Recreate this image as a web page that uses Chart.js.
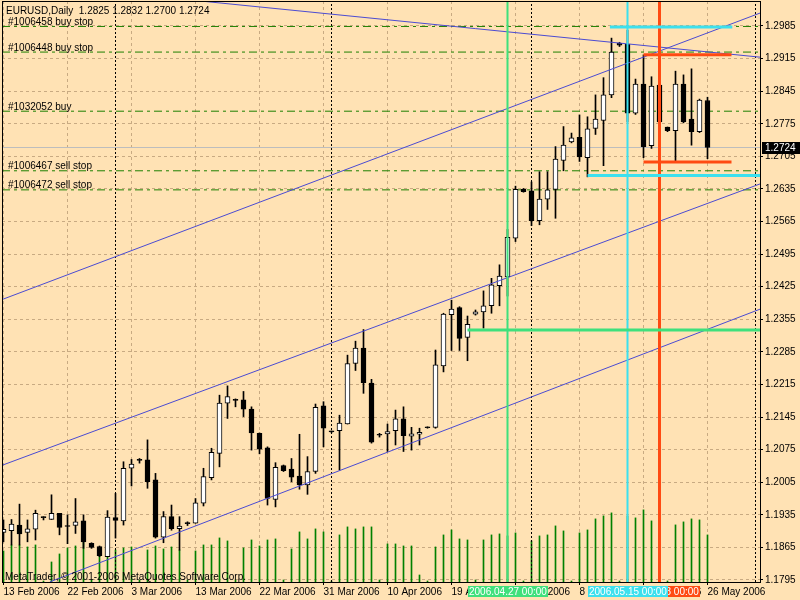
<!DOCTYPE html>
<html>
<head>
<meta charset="utf-8">
<title>EURUSD,Daily</title>
<script src="https://cdn.jsdelivr.net/npm/chart.js@4.4.1/dist/chart.umd.min.js"></script>
<style>
  html, body { margin: 0; padding: 0; background: #FFE2B4; }
  canvas { display: block; }
</style>
</head>
<body>
<canvas id="chart" width="800" height="600"></canvas>
<script>
// bar 0 = 13 Feb 2006, one bar per day, the broker also has Sunday bars
const opens = [
  1.1897, 1.1901, 1.1913, 1.1897, 1.1904, 1.1931, 1.1925, 1.1938, 1.1911, 1.1912,
  1.1922, 1.1874, 1.1867, 1.1845, 1.1929, 1.1922, 1.2035, 1.2053, 1.2053, 1.2010,
  1.1887, 1.1931, 1.1905, 1.1917, 1.1917, 1.1960, 1.2015, 1.2067, 1.2175, 1.2183,
  1.2182, 1.2162, 1.2110, 1.2079, 1.1968, 1.2041, 1.2033, 1.2018, 1.1999, 1.2028,
  1.2169, 1.2114, 1.2116, 1.2130, 1.2260, 1.2293, 1.2218, 1.2108, 1.2109, 1.2116,
  1.2141, 1.2104, 1.2108, 1.2123, 1.2123, 1.2255, 1.2365, 1.2380, 1.2316, 1.2366,
  1.2371, 1.2384, 1.2427, 1.2446, 1.2529, 1.2634, 1.2631, 1.2567, 1.2613, 1.2634,
  1.2696, 1.2736, 1.2746, 1.2702, 1.2765, 1.2782, 1.2837, 1.2948, 1.2946, 1.2798,
  1.2860, 1.2728, 1.2858, 1.2768, 1.2760, 1.2860, 1.2785, 1.2758, 1.2825
];
const highs = [
  1.1924, 1.1925, 1.1958, 1.1924, 1.1945, 1.1931, 1.1978, 1.1938, 1.1935, 1.1970,
  1.1935, 1.1875, 1.1868, 1.1944, 1.1981, 1.2049, 1.2054, 1.2056, 1.2096, 1.2024,
  1.1942, 1.1956, 1.1931, 1.1920, 1.1970, 1.2035, 1.2078, 1.2192, 1.2212, 1.2184,
  1.2200, 1.2167, 1.2111, 1.2081, 1.2047, 1.2042, 1.2056, 1.2108, 1.2060, 1.2173,
  1.2178, 1.2115, 1.2149, 1.2278, 1.2308, 1.2333, 1.2226, 1.2110, 1.2130, 1.2160,
  1.2167, 1.2123, 1.2121, 1.2124, 1.2289, 1.2368, 1.2396, 1.2382, 1.2362, 1.2375,
  1.2416, 1.2443, 1.2472, 1.2548, 1.2641, 1.2636, 1.2650, 1.2672, 1.2672, 1.2726,
  1.2769, 1.2755, 1.2794, 1.2790, 1.2837, 1.2874, 1.2959, 1.2950, 1.2976, 1.2871,
  1.2923, 1.2876, 1.2869, 1.2768, 1.2888, 1.2880, 1.2893, 1.2828, 1.2832
];
const lows = [
  1.1877, 1.1870, 1.1870, 1.1877, 1.1881, 1.1924, 1.1925, 1.1892, 1.1873, 1.1895,
  1.1863, 1.1863, 1.1845, 1.1845, 1.1885, 1.1913, 1.1997, 1.2046, 1.1992, 1.1885,
  1.1875, 1.1902, 1.1859, 1.1912, 1.1917, 1.1954, 1.2010, 1.2038, 1.2142, 1.2167,
  1.2146, 1.2074, 1.2066, 1.1956, 1.1952, 1.2028, 1.2006, 1.1990, 1.1979, 1.2024,
  1.2081, 1.2111, 1.2031, 1.2130, 1.2245, 1.2196, 1.2089, 1.2102, 1.2071, 1.2085,
  1.2071, 1.2074, 1.2085, 1.2121, 1.2121, 1.2242, 1.2288, 1.2288, 1.2266, 1.2364,
  1.2336, 1.2368, 1.2384, 1.2405, 1.2522, 1.2628, 1.2556, 1.2558, 1.2591, 1.2572,
  1.2674, 1.2734, 1.2694, 1.2661, 1.2752, 1.2685, 1.2831, 1.2941, 1.2779, 1.2795,
  1.2702, 1.2722, 1.2766, 1.2758, 1.2693, 1.2777, 1.2729, 1.2756, 1.2700
];
const closes = [
  1.1904, 1.1915, 1.1894, 1.1905, 1.1938, 1.1929, 1.1938, 1.1908, 1.1910, 1.1920,
  1.1877, 1.1865, 1.1847, 1.1930, 1.1923, 1.2035, 1.2044, 1.2052, 1.2006, 1.1887,
  1.1931, 1.1905, 1.1911, 1.1916, 1.1961, 1.2017, 1.2069, 1.2175, 1.2189, 1.2181,
  1.2162, 1.2111, 1.2076, 1.1970, 1.2037, 1.2030, 1.2016, 1.1999, 1.2028, 1.2166,
  1.2121, 1.2113, 1.2132, 1.2260, 1.2293, 1.2219, 1.2091, 1.2106, 1.2114, 1.2141,
  1.2105, 1.2109, 1.2112, 1.2122, 1.2257, 1.2366, 1.2377, 1.2314, 1.2344, 1.2371,
  1.2384, 1.2429, 1.2448, 1.2531, 1.2634, 1.2629, 1.2567, 1.2613, 1.2633, 1.2699,
  1.2729, 1.2745, 1.2704, 1.2764, 1.2785, 1.2837, 1.2929, 1.2944, 1.2798, 1.2860,
  1.2726, 1.2856, 1.2779, 1.2760, 1.2860, 1.2779, 1.2758, 1.2826, 1.2724
];
const volumes = [
  1240, 1480, 1480, 1400, 1480,   40,  800, 1120, 1360, 1440,
  1640,   80, 1200, 1240, 1280, 1360, 1400,   80, 1280, 1440,
  1320, 1400, 1280,   80, 1240, 1480, 1480, 1760, 1640,   80,
  1360, 1680, 1440, 1680, 1720,   80, 1320, 2000, 1720, 2120,
  2000,   40, 1880, 2200, 2120, 2200, 2200,   80, 1520, 1520,
  1440, 1440,  280,   40, 1400, 1880, 2080, 1720, 1680,   80,
  1680, 1880, 1920, 1840, 1960,   40, 1640, 1840, 1880, 2240,
  2040,   40, 1960, 2080, 2520, 2640, 2760,   40, 2640, 2560,
  2880, 2440, 2520,   40, 2280, 2400, 2520, 2480, 1880
];

const dateTicks = [0, 8, 16, 24, 32, 40, 48, 56, 64, 72, 80, 88];
const dateLabels = ['13 Feb 2006', '22 Feb 2006', '3 Mar 2006', '13 Mar 2006', '22 Mar 2006', '31 Mar 2006',
                    '10 Apr 2006', '19 Apr 2006', '28 Apr 2006', '8 May 2006', '17 May 2006', '26 May 2006'];
const priceTicks = [1.1795, 1.1865, 1.1935, 1.2005, 1.2075, 1.2145, 1.2215, 1.2285, 1.2355,
                    1.2425, 1.2495, 1.2565, 1.2635, 1.2705, 1.2775, 1.2845, 1.2915, 1.2985];

// pending orders drawn as dash-dot lines
const orderNames = ['#1006458 buy stop', '#1006448 buy stop', '#1032052 buy', '#1006467 sell stop', '#1006472 sell stop'];
const orderPrices = [1.2984, 1.2929, 1.2802, 1.2674, 1.2633];
const bidPrice = 1.2724;

// trend lines: [bar, price] anchors
const channelUpper = [[-0.4, 1.2396], [94.6, 1.3013]];
const channelMiddle = [[-0.4, 1.2040], [94.6, 1.2646]];
const channelLower = [[5.8, 1.1791], [94.6, 1.2377]];
const fallingLine = [[22.7, 1.3042], [94.6, 1.2918]];

// month separators
const separators = [14, 41, 66, 94];

// vertical lines with their labels on the time axis
const vLineBars = [63, 78, 82];
const vLineLabels = ['2006.04.27 00:00', '2006.05.15 00:00', '2006.05.18 00:00'];
const vLineColors = ['#3FE07C', '#3CE0EE', '#FF4A12'];
const vLineWidths = [2, 2, 3];

// horizontal segments
const hSegFrom = [58, 75.8, 73, 80, 80];
const hSegTo = [94.6, 91.1, 94.6, 91, 91];
const hSegLevel = [1.2332, 1.2983, 1.2664, 1.2923, 1.2693];
const hSegColors = ['#3FE07C', '#3CE0EE', '#3CE0EE', '#FF4A12', '#FF4A12'];

const BG = '#FFE2B4';
const GRID = 'rgb(200,170,130)';
const FONT = '10px "Liberation Sans", Arial, sans-serif';
const barMin = -0.1875, barMax = 94.5625;
const priceMin = 1.17907, priceMax = 1.30387;

const idx = opens.map((_, i) => i);
const wickData = idx.map(i => ({ x: i, y: [lows[i], highs[i]] }));
const bodyData = idx.map(i => ({ x: i, y: [opens[i], closes[i]] }));
const bodyFill = idx.map(i => closes[i] >= opens[i] ? '#FFFFFF' : '#000000');
const volData = idx.map(i => ({ x: i, y: volumes[i] }));

function line(points, color, width, dash, order) {
    return {
        type: 'line',
        data: points.map(p => ({ x: p[0], y: p[1] })),
        borderColor: color,
        borderWidth: width,
        borderDash: dash,
        pointRadius: 0,
        fill: false,
        tension: 0,
        order: order
    };
}

const datasets = [
    { type: 'bar', data: volData, yAxisID: 'yv', backgroundColor: '#008000', barThickness: 1, grouped: false, order: 9 },
    { type: 'bar', data: wickData, backgroundColor: '#000000', barThickness: 1, grouped: false, order: 4 },
    { type: 'bar', data: bodyData, backgroundColor: bodyFill, borderColor: '#000000', borderWidth: 1,
      borderSkipped: false, barThickness: 5, minBarLength: 1, grouped: false, order: 3 }
];

separators.forEach(b => datasets.push(line([[b, priceMin], [b, priceMax]], '#000000', 1, [2, 2], 8)));
datasets.push(line([[barMin, bidPrice], [barMax, bidPrice]], '#BDBDBD', 1, [], 7));
orderPrices.forEach(p => datasets.push(line([[barMin, p], [barMax, p]], '#1E8000', 1, [8, 4, 3, 4], 6)));
[channelUpper, channelMiddle, channelLower, fallingLine].forEach(l => datasets.push(line(l, '#4B4BD2', 1, [], 2)));
hSegLevel.forEach((p, k) => datasets.push(line([[hSegFrom[k], p], [hSegTo[k], p]], hSegColors[k], 3, [], 1)));
vLineBars.forEach((b, k) => datasets.push(line([[b, priceMin], [b, priceMax]], vLineColors[k], vLineWidths[k], [], 1)));

const overlay = {
    id: 'overlay',
    beforeDraw(chart) {
        const ctx = chart.ctx;
        ctx.save();
        ctx.fillStyle = BG;
        ctx.fillRect(0, 0, chart.width, chart.height);
        ctx.restore();
    },
    afterDraw(chart) {
        const { ctx, chartArea: a } = chart;
        const xs = chart.scales.x, ys = chart.scales.y;
        ctx.save();
        ctx.setLineDash([]);
        ctx.strokeStyle = '#000';
        ctx.lineWidth = 1;
        ctx.strokeRect(a.left + 0.5, a.top + 0.5, a.right - a.left, a.bottom - a.top);

        ctx.font = FONT;
        ctx.fillStyle = '#000';
        ctx.textAlign = 'left';
        ctx.textBaseline = 'alphabetic';
        const last = closes.length - 1;
        const ohlc = [opens[last], highs[last], lows[last], closes[last]].map(v => v.toFixed(4)).join(' ');
        ctx.fillText('EURUSD,Daily  ' + ohlc, 6, 13.5);
        orderNames.forEach((n, k) => ctx.fillText(n, 8, ys.getPixelForValue(orderPrices[k]) - 1.5));
        ctx.fillText('MetaTrader, \u00A9 2001-2006 MetaQuotes Software Corp.', 5, 579.5);

        // current bid on the price axis
        const by = Math.round(ys.getPixelForValue(bidPrice));
        ctx.fillRect(a.right + 2, by - 6, chart.width - a.right - 2, 12);
        ctx.fillStyle = '#fff';
        ctx.textBaseline = 'middle';
        ctx.fillText(bidPrice.toFixed(4), a.right + 5, by);

        // time labels of the vertical lines
        [2, 0, 1].forEach(k => {
            const cx = xs.getPixelForValue(vLineBars[k]);
            const w = Math.ceil(ctx.measureText(vLineLabels[k]).width) + 2;
            const left = Math.round(cx - w / 2);
            ctx.fillStyle = vLineColors[k];
            ctx.fillRect(left, a.bottom + 4, w, 11);
            ctx.fillStyle = '#fff';
            ctx.fillText(vLineLabels[k], left + 1, a.bottom + 10);
        });
        ctx.restore();
    }
};

new Chart(document.getElementById('chart'), {
    type: 'bar',
    data: { datasets: datasets },
    options: {
        responsive: false,
        animation: false,
        devicePixelRatio: 1,
        events: [],
        layout: { padding: { left: 2, top: 1, right: 0, bottom: 0 } },
        plugins: { legend: { display: false }, tooltip: { enabled: false } },
        scales: {
            x: {
                type: 'linear',
                position: 'bottom',
                min: barMin,
                max: barMax,
                offset: false,
                afterBuildTicks: s => { s.ticks = dateTicks.map(v => ({ value: v })); },
                afterFit: s => { s.height = 18; s.paddingLeft = 0; s.paddingRight = 0; },
                ticks: {
                    autoSkip: false, maxRotation: 0, minRotation: 0, align: 'start', padding: 1,
                    color: '#000', font: { family: '"Liberation Sans", Arial, sans-serif', size: 10 },
                    callback: v => dateLabels[dateTicks.indexOf(v)]
                },
                grid: { color: GRID, offset: false, tickColor: '#000', tickLength: 3, tickBorderDash: [] },
                border: { display: false, dash: [3, 3] }
            },
            y: {
                type: 'linear',
                position: 'right',
                min: priceMin,
                max: priceMax,
                afterBuildTicks: s => { s.ticks = priceTicks.map(v => ({ value: v })); },
                afterFit: s => { s.width = 40; s.paddingTop = 0; s.paddingBottom = 0; },
                ticks: {
                    autoSkip: false, padding: 2, color: '#000',
                    font: { family: '"Liberation Sans", Arial, sans-serif', size: 10 },
                    callback: v => v.toFixed(4)
                },
                grid: { color: GRID, tickColor: '#000', tickLength: 3, tickBorderDash: [] },
                border: { display: false, dash: [3, 3] }
            },
            yv: { type: 'linear', display: false, min: 0, max: 23200 }
        }
    },
    plugins: [overlay]
});
</script>
</body>
</html>
